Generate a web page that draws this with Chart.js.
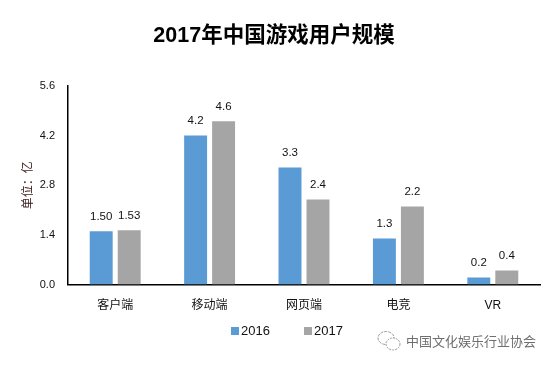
<!DOCTYPE html>
<html>
<head>
<meta charset="utf-8">
<script src="https://cdn.jsdelivr.net/npm/chart.js@4"></script>
<style>
html,body{margin:0;padding:0;background:#fff;overflow:hidden}
#wrap{position:relative;width:553px;height:366px}
#mark{position:absolute;left:406px;top:331px;font:13px "Noto Sans CJK SC";color:#6e6e6e;line-height:20px;white-space:nowrap}
#icon{position:absolute;left:376px;top:329px}
.key{position:absolute;top:323px;font:13px "Liberation Sans";line-height:16px;color:#111;white-space:nowrap}
.key i{position:absolute;left:-10px;top:4px;width:8px;height:8px}
</style>
</head>
<body>
<div id="wrap">
<canvas id="myChart" width="553" height="366"></canvas>
<svg id="icon" width="26" height="24" fill="#fff" stroke="#9a9a9a" stroke-width="1">
<ellipse cx="10" cy="9" rx="8" ry="6.5" stroke-dasharray="3 1"/>
<ellipse cx="17" cy="15" rx="7" ry="6" stroke-dasharray="2 1"/>
</svg>
<div id="mark">中国文化娱乐行业协会</div>
</div>
<script>
// chart data
const categories=['客户端','移动端','网页端','电竞','VR'];
const values2016=[1.5,4.2,3.3,1.3,0.2];
const values2017=[1.53,4.6,2.4,2.2,0.4];
const labels2016=['1.50','4.2','3.3','1.3','0.2'];
const labels2017=['1.53','4.6','2.4','2.2','0.4'];
const yTicks=[0,1.4,2.8,4.2,5.6];
const legendLeft=[241,314];

const cnFont='"Liberation Sans","Noto Sans CJK SC"';

// numbers above the bars
const barLabels={
    id:'barLabels',
    afterDatasetsDraw(chart){
        const ctx=chart.ctx;
        ctx.save();
        ctx.font='11.5px '+cnFont;
        ctx.fillStyle='#111';
        ctx.textAlign='center';
        ctx.textBaseline='bottom';
        chart.data.datasets.forEach(function(ds,i){
            chart.getDatasetMeta(i).data.forEach(function(bar,j){
                ctx.fillText(ds.valueLabels[j],bar.x,bar.y-9);
            });
        });
        ctx.restore();
    }
};

const chart=new Chart(document.getElementById('myChart'),{
    type:'bar',
    data:{
        labels:categories,
        datasets:[
            {label:'2016',data:values2016,valueLabels:labels2016,backgroundColor:'#5b9bd5'},
            {label:'2017',data:values2017,valueLabels:labels2017,backgroundColor:'#a5a5a5'}
        ]
    },
    options:{
        responsive:false,
        animation:false,
        categoryPercentage:0.593,
        barPercentage:0.82,
        layout:{padding:{left:8,right:13,top:0,bottom:39}},
        plugins:{
            title:{
                display:true,
                text:'2017年中国游戏用户规模',
                color:'#000',
                font:{family:cnFont,size:21.5,weight:'bold'},
                padding:{top:23,bottom:37}
            },
            legend:{display:false},
            tooltip:{enabled:false}
        },
        scales:{
            x:{
                grid:{display:false,drawTicks:false},
                border:{color:'#000',width:1.5},
                ticks:{color:'#111',padding:14,font:{family:cnFont,size:12}}
            },
            y:{
                min:0,
                max:5.6,
                afterBuildTicks(axis){axis.ticks=yTicks.map(function(v){return {value:v}})},
                afterFit(axis){axis.width=60},
                grid:{display:false,drawTicks:false},
                border:{color:'#000',width:1.5},
                title:{display:true,text:'单位：亿',color:'#3a1a1a',font:{family:cnFont,size:12},padding:{top:13,bottom:0}},
                ticks:{color:'#111',padding:13,font:{family:cnFont,size:11},callback:function(v){return v.toFixed(1)}}
            }
        }
    },
    plugins:[barLabels]
});

// legend sits off-centre in the reference, so place it by hand
chart.data.datasets.forEach(function(ds,i){
    const key=document.createElement('div');
    key.className='key';
    key.style.left=legendLeft[i]+'px';
    key.innerHTML='<i style="background:'+ds.backgroundColor+'"></i>'+ds.label;
    document.getElementById('wrap').appendChild(key);
});
</script>
</body>
</html>
